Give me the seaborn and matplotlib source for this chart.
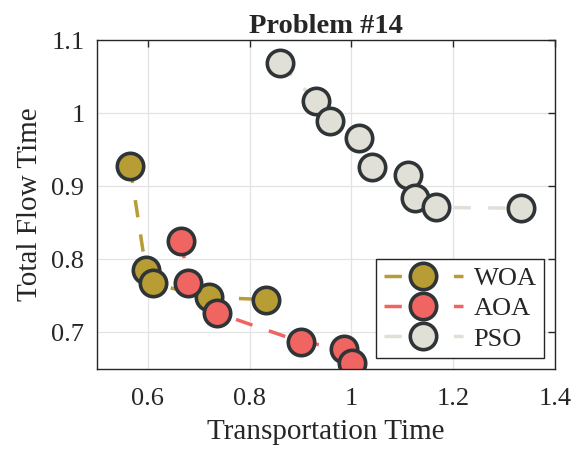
import numpy as np
import pandas as pd
import matplotlib
matplotlib.use("Agg")
import matplotlib.pyplot as plt
import seaborn as sns

# Pareto fronts
woa_x = [0.565, 0.596, 0.610, 0.720, 0.832]
woa_y = [0.928, 0.786, 0.767, 0.748, 0.745]

aoa_x = [0.666, 0.679, 0.735, 0.901, 0.986, 1.001]
aoa_y = [0.825, 0.768, 0.727, 0.687, 0.678, 0.658]

pso_x = [0.860, 0.930, 0.957, 1.014, 1.041, 1.112, 1.125, 1.167, 1.334]
pso_y = [1.069, 1.016, 0.989, 0.966, 0.927, 0.915, 0.884, 0.871, 0.870]

series = [("WOA", woa_x, woa_y, "#b89c34"),
          ("AOA", aoa_x, aoa_y, "#f06461"),
          ("PSO", pso_x, pso_y, "#e0e0d6")]

sns.set_style("whitegrid")
plt.rcParams['font.family'] = ['Liberation Serif', 'DejaVu Serif']

fig = plt.figure(figsize=(5.79, 4.5), dpi=100)
ax = fig.add_axes([0.1675, 0.18, 0.791, 0.731])

for name, xs, ys, col in series:
    df = pd.DataFrame({"x": xs, "y": ys})
    sns.lineplot(data=df, x="x", y="y", ax=ax, sort=False, color=col,
                 linestyle="--", linewidth=2.5, dashes=False,
                 marker="o", markersize=19, markerfacecolor=col,
                 markeredgecolor="#2f3436", markeredgewidth=2.6,
                 label=name)
    ax.lines[-1].set_dashes([5, 5])

ax.set_xlim(0.5, 1.4)
ax.set_ylim(0.65, 1.1)
ax.set_xticks([0.6, 0.8, 1.0, 1.2, 1.4])
ax.set_xticklabels(["0.6", "0.8", "1", "1.2", "1.4"])
ax.set_yticks([0.7, 0.8, 0.9, 1.0, 1.1])
ax.set_yticklabels(["0.7", "0.8", "0.9", "1", "1.1"])
ax.tick_params(axis="both", direction="in", length=5, width=1, colors="#262626",
               labelsize=19, top=True, right=True)
ax.tick_params(axis="x", pad=14)
ax.tick_params(axis="y", pad=9)
ax.grid(True, color="#e3e3e3", linewidth=0.9)
for sp in ax.spines.values():
    sp.set_color("#262626")
    sp.set_linewidth(1.0)

ax.set_xlabel("Transportation Time", fontsize=21, color="#262626", labelpad=6)
ax.set_ylabel("Total Flow Time", fontsize=21, color="#262626", labelpad=6)
ax.set_title("Problem #14", fontsize=20.5, fontweight="bold", pad=5)

leg = ax.legend(loc="lower right", fontsize=19, frameon=True, fancybox=False,
                edgecolor="#262626", framealpha=1, borderpad=0.3,
                handlelength=3.0, handletextpad=0.4, labelspacing=0.25,
                borderaxespad=0.4)
leg.get_frame().set_linewidth(1.0)

fig.savefig("out.png", dpi=100)
